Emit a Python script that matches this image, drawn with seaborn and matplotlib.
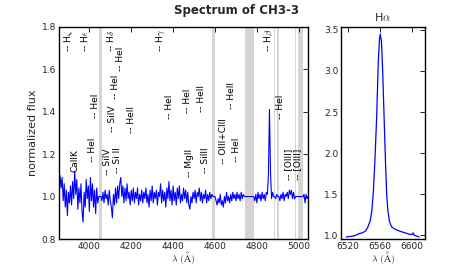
import numpy as np
import pandas as pd
import matplotlib
matplotlib.use("Agg")
import matplotlib.pyplot as plt
import seaborn as sns

# ---------------- data ----------------
wave_start = 3855
wave_step = 5
flux_main = [
    1.07, 1.10, 1.04, 1.09, 0.98, 1.06, 0.95, 1.03, 0.91, 1.02,
    0.97, 1.05, 0.96, 1.07, 0.99, 1.12, 1.01, 1.08, 0.94, 1.04,
    0.97, 1.06, 0.93, 0.88, 1.02, 0.95, 1.08, 0.99, 1.05, 0.93,
    1.09, 0.98, 1.06, 0.95, 1.03, 0.92, 1.04, 0.97, 1.00,
    1.00, 1.00,
    0.98, 1.02, 0.97, 1.03, 0.99, 1.01, 0.96, 1.03, 0.98, 0.95,
    0.90, 1.01, 0.96, 1.04, 0.97, 1.05, 0.99, 1.06, 1.09,
    1.00, 1.05, 0.97, 1.04, 0.98, 1.06, 0.99, 1.02, 0.96, 1.03,
    0.98, 1.04, 0.97, 1.02, 0.99, 1.04, 0.96, 1.01, 0.98, 1.03,
    0.97, 1.02, 0.99, 1.04, 0.97, 1.01, 0.95, 1.03, 0.98, 1.05,
    0.97, 1.02, 0.99, 1.03, 0.96, 1.02, 1.00, 1.06, 0.97, 1.03,
    0.98, 1.02, 0.95, 1.04, 0.99, 1.07, 0.98, 1.03, 0.96, 1.05,
    0.98, 1.02, 0.96, 1.04, 0.99, 1.05, 0.97, 1.01, 0.98, 1.04,
    0.99, 1.03, 0.97, 1.02, 0.96, 0.94, 1.00, 0.97, 1.02, 0.99,
    1.03, 0.97, 1.02, 1.00, 1.04, 0.98, 1.02, 0.97, 1.01, 0.99,
    1.03, 0.97, 1.01, 0.98, 1.02, 0.99, 1.01,
    1.00, 1.00, 1.00,
    0.98, 0.96, 0.99, 0.97, 1.01, 0.96, 0.98, 0.95, 1.00, 0.97,
    1.02, 0.98, 1.00, 0.97, 1.01, 0.98, 1.02, 0.99, 1.01, 0.98,
    1.02, 0.99, 1.01, 0.98, 1.02, 0.99, 1.01, 1.00,
    1.00, 1.00, 1.00, 1.00, 1.00, 1.00, 1.00, 1.00, 1.00,
    0.98, 1.01, 0.97, 1.02, 0.99, 1.01, 0.98, 1.02, 0.99, 1.01,
    0.98, 1.02, 1.01,
    1.10, 1.41, 1.12, 0.99, 1.02, 1.00, 1.00, 0.99, 1.01, 1.00,
    1.00, 0.98, 1.01, 0.99, 1.02, 0.98, 1.01, 1.00, 1.02, 0.99,
    1.03, 1.01, 1.03, 0.99, 1.02, 0.99, 1.00, 1.00, 1.00, 1.00,
    1.00, 1.00, 1.00, 1.00, 1.01, 0.97, 1.01, 0.99, 1.00,
]
wave_main = wave_start + wave_step * np.arange(len(flux_main))

ha_wave = [6518, 6522, 6526, 6530, 6534, 6538, 6542, 6545, 6548, 6550,
           6552, 6554, 6556, 6558, 6559.5, 6560.5, 6562, 6563.5, 6565, 6567,
           6568.5, 6570, 6572, 6574.5, 6578, 6581, 6585, 6589, 6593, 6597,
           6600, 6601.5, 6603, 6606, 6609]
ha_flux = [0.98, 0.985, 0.99, 1.00, 1.02, 1.03, 1.05, 1.10, 1.18, 1.30,
           1.55, 1.95, 2.44, 3.10, 3.38, 3.45, 3.36, 3.00, 2.53, 1.90,
           1.50, 1.30, 1.17, 1.105, 1.08, 1.065, 1.05, 1.037, 1.025, 1.012,
           1.01, 1.03, 1.00, 0.99, 0.98]

band_lo = [4045, 4586, 4741, 4880, 4897, 4981, 4998]
band_hi = [4058, 4602, 4786, 4886, 4905, 4989, 5022]

line_labels = ["-- H$\\zeta$", "-- H$\\epsilon$", "CaIIK", "-- HeI", "-- HeI",
               "-- H$\\delta$", "-- SiIV", "-- SiIV", "-- Si II", "-- HeI",
               "-- HeI", "-- HeII", "-- H$\\gamma$", "-- HeI", "-- HeI",
               "-- HeII", "-- MgII", "-- SiIII", "-- OIII+CIII", "-- HeI",
               "-- HeII", "-- H$\\beta$", "-- HeI", "-- [OIII]", "-- [OIII]"]
line_waves = [3900, 3975, 3932, 4027, 4014,
              4099, 4110, 4088, 4132, 4125,
              4148, 4201, 4341, 4381, 4467,
              4535, 4477, 4553, 4641, 4705,
              4678, 4857, 4913, 4952, 4995]
line_ypos = [1.68, 1.68, 1.115, 1.37, 1.163,
             1.68, 1.305, 1.10, 1.11, 1.46,
             1.59, 1.30, 1.68, 1.366, 1.394,
             1.40, 1.093, 1.11, 1.154, 1.163,
             1.41, 1.68, 1.366, 1.08, 1.08]

# ---------------- style ----------------
sns.set_theme(style="white")
plt.rcParams["font.family"] = ["DejaVu Sans"]
plt.rcParams["mathtext.fontset"] = "cm"
plt.rcParams["xtick.direction"] = "in"
plt.rcParams["ytick.direction"] = "in"
plt.rcParams["xtick.top"] = True
plt.rcParams["ytick.right"] = True
plt.rcParams["axes.edgecolor"] = "black"
plt.rcParams["axes.linewidth"] = 1.0

fig = plt.figure(figsize=(4.72, 2.66), dpi=100)
ax = fig.add_axes([0.125, 0.1015, 0.5275, 0.7985])
ax2 = fig.add_axes([0.7225, 0.1015, 0.1773, 0.7985])

for lo, hi in zip(band_lo, band_hi):
    ax.axvspan(lo, hi, color="#d8d4d4", lw=0, zorder=0)

df_main = pd.DataFrame({"wave": wave_main, "flux": flux_main})
sns.lineplot(data=df_main, x="wave", y="flux", ax=ax, color="#0000ff", lw=0.8, zorder=2)

for lab, w, y in zip(line_labels, line_waves, line_ypos):
    ax.text(w, y, lab, rotation=90, ha="center", va="bottom", fontsize=6.5,
            color="black", zorder=3)

ax.set_xlim(3855, 5044)
ax.set_ylim(0.8, 1.8)
ax.set_xticks([4000, 4200, 4400, 4600, 4800, 5000])
ax.set_yticks([0.8, 1.0, 1.2, 1.4, 1.6, 1.8])
ax.tick_params(labelsize=6.5, pad=2, color="black", length=3.5, width=0.6)
ax.set_xlabel("$\\lambda\\ (\\mathrm{\\AA})$", fontsize=7, labelpad=-1)
ax.set_ylabel("normalized flux", fontsize=8, labelpad=3)

df_ha = pd.DataFrame({"wave": ha_wave, "flux": ha_flux})
sns.lineplot(data=df_ha, x="wave", y="flux", ax=ax2, color="#0000ff", lw=0.9)
ax2.set_xlim(6511.5, 6616)
ax2.set_ylim(0.955, 3.54)
ax2.set_xticks([6520, 6560, 6600])
ax2.set_yticks([1.0, 1.5, 2.0, 2.5, 3.0, 3.5])
ax2.tick_params(labelsize=6.5, pad=2, color="black", length=3.5, width=0.6)
ax2.set_xlabel("$\\lambda\\ (\\mathrm{\\AA})$", fontsize=7, labelpad=-1)
ax2.set_ylabel("")
ax2.set_title("H$\\alpha$", fontsize=8, pad=4)

fig.suptitle("Spectrum of CH3-3", fontweight="bold", fontsize=8.5, x=0.5, y=0.985)

fig.savefig("out.png", dpi=100)
